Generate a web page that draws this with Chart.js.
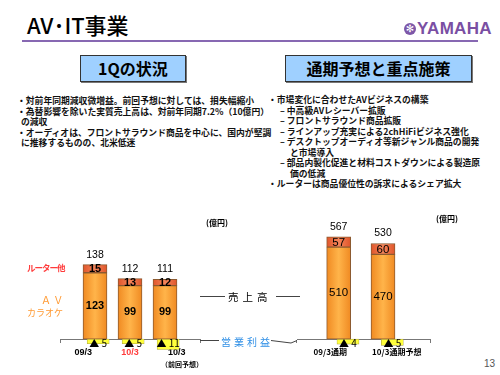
<!DOCTYPE html>
<html>
<head>
<meta charset="utf-8">
<script src="https://cdn.jsdelivr.net/npm/chart.js@4.4.1/dist/chart.umd.min.js"></script>
<style>
  body { margin: 0; width: 500px; height: 375px; position: relative; background: #fff; overflow: hidden;
         font-family: "Noto Sans CJK JP", sans-serif; color: #000; }
  .abs { position: absolute; white-space: nowrap; }
  #title { left: 27px; top: 11px; font-size: 22px; line-height: 26px; font-weight: 500; }
  #logo { left: 404px; top: 21px; height: 16px; }
  #logo .mark { position: absolute; left: 0; top: 2px; width: 12px; height: 12px; border-radius: 50%;
                background: #7d57a8; color: #fff; font: 10px/12px "DejaVu Sans"; text-align: center; }
  #logo .word { position: absolute; left: 13px; top: -2px; font: bold 17px/19px "Liberation Sans Narrow", sans-serif;
                color: #7a4fa3; letter-spacing: 0.3px; }
  #rule { left: 22px; top: 40px; width: 456px; height: 2px; background: #8768b2; }
  .box { position: absolute; top: 55px; height: 25px; border: 1px solid #333; background: #9fd0ff;
         font-size: 16px; font-weight: bold; line-height: 25px; text-align: center; box-shadow: 1px 1px 0 #777; }
  .txt { font-size: 8.8px; line-height: 10.5px; font-weight: bold; color: #111; }
  .in1 { padding-left: 4px; }
  .in2 { padding-left: 12px; }
  .in3 { padding-left: 22px; }
  canvas { position: absolute; }
  .lbl { position: absolute; white-space: nowrap; font-weight: bold; }
</style>
</head>
<body>
<div class="abs" id="title">AV･IT事業</div>
<div class="abs" id="logo"><div class="mark">✻</div><div class="word">YAMAHA</div></div>
<div class="abs" id="rule"></div>

<div class="box" style="left:80px;width:104px;">1Qの状況</div>
<div class="box" style="left:285px;width:185px;">通期予想と重点施策</div>

<div class="abs txt" style="left:17px;top:96px;">
  <div>・対前年同期減収微増益。前回予想に対しては、損失幅縮小</div>
  <div>・為替影響を除いた実質売上高は、対前年同期7.2%（10億円）</div>
  <div class="in1">の減収</div>
  <div>・オーディオは、フロントサラウンド商品を中心に、国内が堅調</div>
  <div class="in1">に推移するものの、北米低迷</div>
</div>

<div class="abs txt" style="left:268px;top:95px;">
  <div>・市場変化に合わせたAVビジネスの構築</div>
  <div class="in2">– 中高級AVレシーバー拡販</div>
  <div class="in2">– フロントサラウンド商品拡販</div>
  <div class="in2">– ラインアップ充実による2chHiFiビジネス強化</div>
  <div class="in2">– デスクトップオーディオ等新ジャンル商品の開発</div>
  <div class="in3">と市場導入</div>
  <div class="in2">– 部品内製化促進と材料コストダウンによる製造原</div>
  <div class="in3">価の低減</div>
  <div>・ルーターは商品優位性の訴求によるシェア拡大</div>
</div>

<canvas id="leftChart" width="175" height="172" style="left:40px;top:200px;"></canvas>
<canvas id="rightChart" width="170" height="172" style="left:280px;top:200px;"></canvas>

<div class="lbl" style="left:206px;top:217px;font-size:8px;">(億円)</div>
<div class="lbl" style="left:436px;top:213px;font-size:8px;">(億円)</div>
<div class="lbl" style="left:27px;top:261px;font-size:8.5px;color:#ff3b3b;letter-spacing:-1px;">ルーター他</div>
<div class="lbl" style="left:41px;top:292px;font-size:10px;color:#ff9a33;font-weight:normal;">Ａ Ｖ</div>
<div class="lbl" style="left:27px;top:306px;font-size:9px;color:#ff9a33;font-weight:normal;">カラオケ</div>
<div class="lbl" style="left:161px;top:359px;font-size:7px;">（前回予想）</div>
<div class="lbl" style="left:228px;top:289px;font-size:10.5px;font-weight:normal;letter-spacing:4px;">売上高</div>
<div class="lbl" style="left:221px;top:334px;font-size:10px;color:#2f8fe6;font-weight:normal;letter-spacing:3px;">営業利益</div>
<div class="abs" style="left:484px;top:358px;font:10px 'Liberation Sans';color:#555;">13</div>

<svg class="abs" style="left:0;top:0;" width="500" height="375">
  <g stroke="#444" stroke-width="1" fill="none">
    <line x1="200" y1="296.5" x2="225" y2="296.5"/>
    <line x1="276" y1="296.5" x2="300" y2="296.5"/>
    <polyline points="200,340.5 219,340.5"/>
    <polyline points="271,340.5 291,343 297,340.5"/>
  </g>
</svg>

<script>
// left chart: quarterly (1Q)
const leftCats = ['09/3', '10/3', '10/3'];
const leftCatColors = ['#000', '#ff3b3b', '#000'];
const leftAV = [123, 99, 99];
const leftRouter = [15, 13, 12];
const leftProfit = [-5, -5, -11];

// right chart: full year
const rightCats = ['09/3通期', '10/3通期予想'];
const rightCatColors = ['#000', '#000'];
const rightAV = [510, 470];
const rightRouter = [57, 60];
const rightProfit = [-4, -5];

const BAR_W = 24;

function barFill(edge, mid) {
  return (c) => {
    const chart = c.chart;
    if (c.type !== 'data' || !chart.chartArea || !c.parsed) return mid;
    const px = chart.scales.x.getPixelForValue(c.parsed.x);
    const g = chart.ctx.createLinearGradient(px - BAR_W / 2, 0, px + BAR_W / 2, 0);
    g.addColorStop(0, edge);
    g.addColorStop(0.5, mid);
    g.addColorStop(1, edge);
    return g;
  };
}

const barLabels = {
  id: 'barLabels',
  afterDatasetsDraw(chart, args, o) {
    const ctx = chart.ctx;
    const av = chart.getDatasetMeta(0).data;
    const rt = chart.getDatasetMeta(1).data;
    const pf = chart.getDatasetMeta(2).data;
    const dsAV = chart.data.datasets[0].data;
    const dsRt = chart.data.datasets[1].data;
    const dsPf = chart.data.datasets[2].data;
    ctx.save();
    ctx.textAlign = 'center';
    ctx.textBaseline = 'middle';
    ctx.fillStyle = '#000';
    ctx.font = o.segFont;
    av.forEach((b, i) => ctx.fillText(dsAV[i].y, b.x, (b.y + b.base) / 2));
    rt.forEach((b, i) => ctx.fillText(dsRt[i].y, b.x, (b.y + b.base) / 2 + 0.5));
    ctx.font = '10.5px "Liberation Sans"';
    rt.forEach((b, i) => ctx.fillText(dsAV[i].y + dsRt[i].y, b.x, b.y - 10));
    ctx.font = '10px "Noto Sans CJK JP"';
    pf.forEach((b, i) => ctx.fillText('▲ ' + Math.abs(dsPf[i].y), b.x, b.base + 4));
    ctx.restore();
  }
};

function makeChart(id, cats, catColors, av, router, profit, opt) {
  const n = cats.length;
  return new Chart(document.getElementById(id), {
    type: 'bar',
    data: {
      labels: cats,
      datasets: [
        {
          label: 'AV・カラオケ', yAxisID: 'y', stack: 's',
          data: av.map((v, i) => ({x: i + opt.barShift, y: v})),
          backgroundColor: barFill('#f08a22', '#ffb44a'),
        },
        {
          label: 'ルーター他', yAxisID: 'y', stack: 's',
          data: router.map((v, i) => ({x: i + opt.barShift, y: v})),
          backgroundColor: barFill('#e0552a', '#f4845a'),
        },
        {
          label: '営業利益', yAxisID: 'y2', stack: 'p',
          data: profit.map((v, i) => ({x: i + opt.profitShift, y: v})),
          backgroundColor: '#ffff3c',
          borderColor: '#a8a040',
          borderWidth: 0.6,
          barThickness: 22,
          clip: false,
        },
      ],
    },
    options: {
      responsive: false,
      animation: false,
      events: [],
      layout: {padding: opt.padding},
      datasets: {
        bar: {
          grouped: false,
          barThickness: BAR_W,
          borderColor: '#8c5a30',
          borderWidth: 1,
          borderSkipped: false,
        },
      },
      plugins: {
        legend: {display: false},
        tooltip: {enabled: false},
        barLabels: {segFont: opt.segFont},
      },
      scales: {
        x: {
          type: 'linear', min: -0.5, max: n - 0.5,
          position: {y: 0},
          afterBuildTicks: (ax) => { ax.ticks = Array.from({length: n + 1}, (_, i) => ({value: i - 0.5})); },
          afterFit: (s) => { s.height = 0; },
          ticks: {display: false},
          grid: {drawOnChartArea: false, tickLength: 3, color: '#777'},
          border: {color: '#777', width: 1},
        },
        x2: {
          type: 'category',
          labels: cats,
          offset: true,
          position: 'bottom',
          grid: {display: false, drawTicks: false},
          border: {display: false},
          ticks: {
            autoSkip: false, maxRotation: 0, padding: 1,
            color: (c) => catColors[c.index],
            font: {family: opt.tickFamily, size: opt.tickSize, weight: 'bold'},
          },
        },
        y: {display: false, stacked: true, min: opt.yMin, max: opt.yMax},
        y2: {display: false, min: opt.yMin / opt.profitScale, max: opt.yMax / opt.profitScale},
      },
    },
    plugins: [barLabels],
  });
}

makeChart('leftChart', leftCats, leftCatColors, leftAV, leftRouter, leftProfit, {
  barShift: 0, profitShift: 0.09,
  yMin: -14, yMax: 160, profitScale: 1.75,
  padding: {left: 20, right: 15, top: 52.8, bottom: 12.6},
  segFont: 'bold 11px "Liberation Sans"',
  tickFamily: 'Liberation Sans', tickSize: 9,
});

makeChart('rightChart', rightCats, rightCatColors, rightAV, rightRouter, rightProfit, {
  barShift: -0.06, profitShift: 0.15,
  yMin: -41, yMax: 640, profitScale: 6.9,
  padding: {left: 17, right: 20, top: 23.7, bottom: 13.9},
  segFont: '11.5px "Liberation Sans"',
  tickFamily: 'Noto Sans CJK JP', tickSize: 8,
});
</script>
</body>
</html>
